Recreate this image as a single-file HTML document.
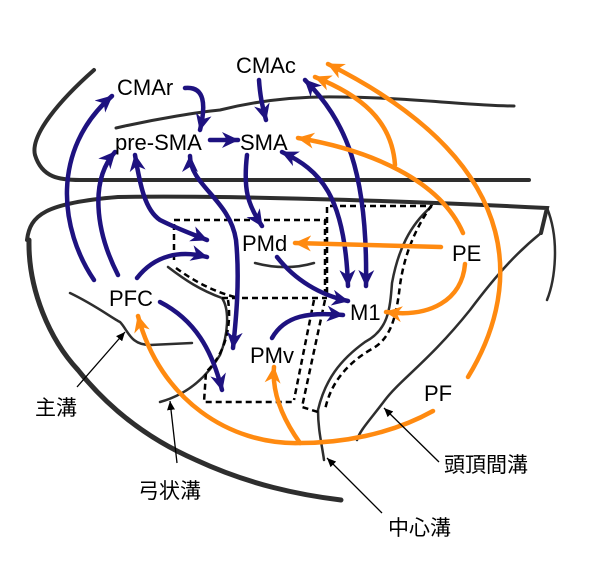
<!DOCTYPE html>
<html><head><meta charset="utf-8"><style>
html,body{margin:0;padding:0;background:#fff;}
svg{display:block;}
text{font-family:"Liberation Sans","Noto Sans CJK JP",sans-serif;fill:#000;}
</style></head><body>
<svg width="613" height="562" viewBox="0 0 613 562" xmlns="http://www.w3.org/2000/svg">
<defs>
<marker id="b" markerUnits="userSpaceOnUse" markerWidth="18" markerHeight="16" refX="16" refY="8" orient="auto-start-reverse"><path d="M0,0 L17,8 L0,16 L5,8 Z" fill="#1e1280"/></marker>
<marker id="o" markerUnits="userSpaceOnUse" markerWidth="18" markerHeight="16" refX="16" refY="8" orient="auto-start-reverse"><path d="M0,0 L17,8 L0,16 L5,8 Z" fill="#ff8a10"/></marker>
<marker id="k" markerUnits="userSpaceOnUse" markerWidth="10" markerHeight="8" refX="9" refY="4" orient="auto"><path d="M0,0 L9,4 L0,8 Z" fill="#000"/></marker>
</defs>
<g fill="none" stroke="#2e2e2e" stroke-linecap="round">
<path d="M94,70 C60,100 30,135 35,155 C42,178 60,180 80,180 L529,180" stroke-width="4"/>
<path d="M116,128 C160,118 200,112 220,110 C260,100 300,96 341,97 C420,98 470,106 514,106" stroke-width="3"/>
<path d="M27,240 C30,215 45,203 118,197 C250,195 450,203 547,208 L541,233" stroke-width="4"/>
<path d="M547,208 C560,240 555,280 547,300" stroke-width="2.5"/>
<path d="M541,233 C520,250 500,270 470,310 C430,360 400,380 385,400 C370,420 360,430 357,440" stroke-width="2.5"/>
<path d="M29,240 C28,290 50,340 78,370 C110,410 150,440 196,460 C250,485 300,495 341,500" stroke-width="5"/>
<path d="M70,293 C95,305 112,318 120,322 C128,330 130,345 150,345 L192,343" stroke-width="2.5"/>
<path d="M168,267 C185,280 200,290 222,298 C230,310 228,335 220,355 C205,380 185,395 160,402" stroke-width="2.5"/>
<path d="M255,263 C270,267 290,270 314,263" stroke-width="2.5"/>
<path d="M431,207 C410,225 398,250 392,283 C390,310 388,330 365,342 C340,360 325,380 318,410 C318,430 322,445 324,460" stroke-width="2.5"/>
</g>
<g fill="none" stroke="#000" stroke-width="2.5" stroke-dasharray="6,4">
<path d="M174,260 L174,220 L325,220 L325,293"/>
<path d="M176,268 C195,282 215,292 235,297"/>
<path d="M327,293 L327,206 L431,206 C418,225 405,250 400,285 C396,320 390,340 370,350 C345,365 330,385 325,410"/>
<path d="M222,298 L327,298"/>
<path d="M228,300 C232,325 225,355 206,372 L204,402 L294,402"/>
<path d="M314,300 L294,400"/>
<path d="M325,300 L302,407 L318,412"/>
</g>
<g fill="none" stroke="#1e1280" stroke-width="4.5" stroke-linecap="round">
<path d="M94,280 C60,230 50,150 112,96" marker-end="url(#b)"/>
<path d="M118,275 C95,230 90,180 115,152" marker-end="url(#b)"/>
<path d="M137,278 C155,255 180,250 207,257" marker-end="url(#b)"/>
<path d="M135,155 C140,185 145,210 160,220 C180,230 195,235 207,240" marker-start="url(#b)" marker-end="url(#b)"/>
<path d="M190,156 C190,185 230,200 236,240 C240,280 236,320 233,348" marker-start="url(#b)" marker-end="url(#b)"/>
<path d="M185,88 C205,86 206,105 200,130" marker-end="url(#b)"/>
<path d="M210,140 L238,140" marker-end="url(#b)"/>
<path d="M247,155 C243,190 248,205 262,226" marker-end="url(#b)"/>
<path d="M282,152 C320,170 345,195 348,286" marker-start="url(#b)" marker-end="url(#b)"/>
<path d="M259,80 C260,95 262,105 266,120" marker-end="url(#b)"/>
<path d="M305,80 C345,120 368,170 366,286" marker-start="url(#b)" marker-end="url(#b)"/>
<path d="M277,257 C295,280 320,295 348,301" marker-end="url(#b)"/>
<path d="M160,302 C195,320 212,350 222,390" marker-end="url(#b)"/>
<path d="M272,338 C285,315 310,312 343,315" marker-end="url(#b)"/>
</g>
<g fill="none" stroke="#ff8a10" stroke-width="4.5" stroke-linecap="round">
<path d="M441,247 L295,243" marker-end="url(#o)"/>
<path d="M465,264 C462,300 430,318 386,312" marker-end="url(#o)"/>
<path d="M463,233 C440,180 370,150 298,138" marker-end="url(#o)"/>
<path d="M395,165 C392,120 360,95 315,77" marker-end="url(#o)"/>
<path d="M468,377 C515,300 540,170 328,64" marker-end="url(#o)"/>
<path d="M433,411 C390,435 340,443 300,443 C230,445 160,400 138,316" marker-end="url(#o)"/>
<path d="M300,443 C280,415 272,390 274,367" marker-end="url(#o)"/>
</g>
<g stroke="#000" stroke-width="1.3" fill="none">
<path d="M77,387 L125,332" marker-end="url(#k)"/>
<path d="M177,463 L170,401" marker-end="url(#k)"/>
<path d="M382,513 L327,458" marker-end="url(#k)"/>
<path d="M439,462 L384,408" marker-end="url(#k)"/>
</g>
<g font-size="22">
<text x="117" y="95">CMAr</text>
<text x="236" y="73">CMAc</text>
<text x="115" y="150">pre-SMA</text>
<text x="240" y="150">SMA</text>
<text x="242" y="251">PMd</text>
<text x="452" y="261">PE</text>
<text x="109" y="306">PFC</text>
<text x="350" y="320">M1</text>
<text x="250" y="363">PMv</text>
<text x="424" y="401">PF</text>
</g>
<g font-size="21">
<text x="35" y="415">主溝</text>
<text x="138" y="498">弓状溝</text>
<text x="388" y="535">中心溝</text>
<text x="444" y="472">頭頂間溝</text>
</g>
</svg>
</body></html>
